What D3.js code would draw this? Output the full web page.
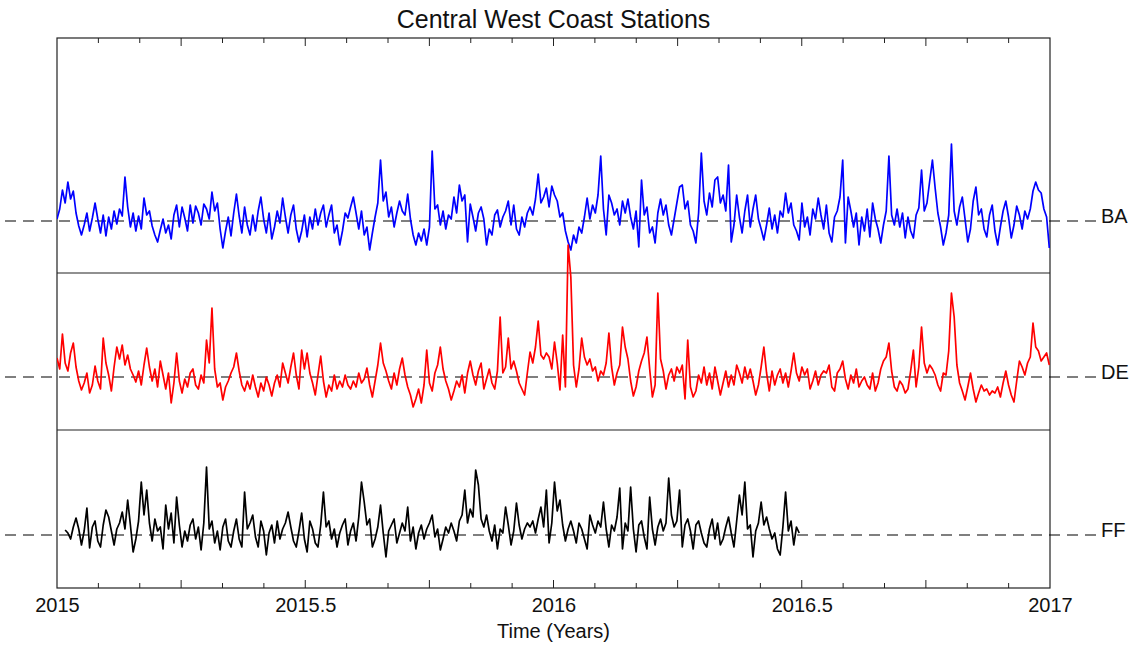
<!DOCTYPE html>
<html>
<head>
<meta charset="utf-8">
<script src="https://cdn.jsdelivr.net/npm/d3@7"></script>
<style>
  html, body { margin: 0; padding: 0; background: #fff; }
  svg { display: block; font-family: "Liberation Sans", Arial, sans-serif; }
</style>
</head>
<body>
<svg id="chart" width="1135" height="646"></svg>
<script>
// Sea-level anomaly records for three central west coast stations,
// sampled every two days (values in mm relative to each station's mean).
const stationNames = ["BA", "DE", "FF"];
const stationColors = ["#0000ff", "#ff0000", "#000000"];
const stepDays = 2;
const baStartDay = 0;
const deStartDay = 0;
const ffStartDay = 6;

const baValues = [
  2, 12, 31, 18, 39, 22, 30, 8, -5, -14,
  -4, 8, -10, 3, 18, 2, -12, 6, -15, 4,
  -8, 10, -3, 12, 5, 44, 14, -6, 8, -10,
  5, -8, 23, 6, 10, -5, -14, -21, -9, 2,
  -12, -4, -18, 6, 16, -6, 14, 3, -10, 16,
  -2, 15, 8, -4, 17, 12, 2, 29, 10, 18,
  -8, -27, -10, 4, -15, 8, 27, 5, -12, 14,
  -4, -14, 6, -10, 10, 24, 2, -12, 8, -18,
  -6, 10, -2, 23, 4, -12, 6, 16, -8, -21,
  -10, 6, -16, 4, -8, 12, -4, 8, 16, -6,
  6, 16, -12, -4, -24, -10, 8, 3, 14, 24,
  8, -8, 10, -14, -6, -29, -12, 4, 18, 61,
  20, 29, 4, 14, -6, 8, 20, 10, 6, 27,
  2, -14, -24, -12, -20, -8, -24, -6, 70, 12,
  16, -4, 10, -8, 6, 2, 24, 8, 36, 20,
  26, -21, 17, 4, -10, 8, 14, 2, -24, -8,
  -14, 6, 11, -6, 4, 10, 20, -4, 16, -8,
  -14, 4, -6, 8, 14, 6, 22, 47, 18, 24,
  33, 14, 35, 26, 20, 4, 8, -10, -21, -29,
  -14, -22, -6, -12, 4, 23, 2, 16, 8, 26,
  65, 12, -14, 26, 18, 6, 12, -4, 20, 8,
  22, 4, -8, 10, -26, 41, 6, 14, -12, -6,
  -22, 8, 22, 6, 16, -4, -14, 2, 18, 34,
  36, 12, 20, -4, -10, -22, 8, 68, 20, 6,
  28, 14, 41, 44, 18, 26, 10, 56, -21, -4,
  26, 4, -12, 10, 26, -6, 12, 26, 2, -8,
  -19, -4, 13, -8, 6, -12, 10, 4, 28, 8,
  18, -4, -10, -19, 18, -6, 4, -14, 12, 2,
  23, 6, -8, 16, -12, -21, 4, 10, 24, 61,
  -22, 24, 10, -6, 8, -24, 4, -10, 12, -16,
  18, 2, -8, -22, -4, 10, 65, 6, -4, 12,
  -6, 8, -17, 4, -10, -17, 6, 13, 51, 10,
  18, 40, 61, 33, 8, -6, -24, -12, 6, 77,
  10, -4, 14, 24, 2, -21, -8, 20, 34, 6,
  12, -8, -16, 6, 16, -10, -24, -6, 10, 20,
  4, -17, -4, 15, 6, -8, 10, 2, 12, 30,
  39, 31, 28, 12, 4, -27
];

const deValues = [
  19, 8, 43, 14, 6, 24, 34, 10, -4, -13,
  -6, 4, -16, -8, 11, -4, -12, 39, 14, 2,
  -14, 10, 30, 18, 32, 12, 22, 8, 2, -5,
  6, -8, 12, 29, 10, -4, 8, -10, 16, 2,
  -12, 4, -26, -6, 24, -4, -16, -2, -10, 4,
  8, -8, -12, 2, -6, 37, 14, 69, 8, -10,
  -6, -23, -10, -4, 4, 10, 24, 6, -8, -14,
  -4, -12, 2, -10, -20, -6, -14, 0, -8, -19,
  -6, 2, -10, 14, 4, -6, 10, 24, 2, -12,
  27, 8, 24, 4, -6, -18, 2, 21, -4, -20,
  -8, -14, 2, -12, -4, -10, 2, -8, -12, -4,
  -10, 4, -6, -2, 9, -8, -20, -4, 12, 34,
  14, 6, -4, -12, 4, -8, 8, 19, 2, -10,
  -18, -30, -22, -12, -26, -8, 27, -6, -14, 4,
  12, 30, 8, -4, -12, -23, -14, -4, -10, 2,
  -16, 4, 16, 2, -8, 6, 14, -12, -2, 8,
  -6, -12, 6, 60, 4, 10, 39, 8, 16, 6,
  -6, -12, -18, 4, 25, 14, 30, 56, 22, 18,
  24, 20, 8, 35, 14, -13, 42, -10, 132, 100,
  12, -10, 8, 39, 20, 12, 18, 6, 10, -4,
  6, 2, 14, 44, 10, -8, 4, 12, 50, 30,
  18, -4, -19, -10, 6, 16, 24, 40, 8, -20,
  -8, 84, 18, 6, -12, 2, 8, -4, 10, 4,
  12, -22, 37, -10, -20, -14, 2, -6, 10, -8,
  4, -12, 10, -4, -18, -6, 6, -10, 2, -8,
  12, 4, -6, 10, -2, 8, -4, -18, -8, 10,
  30, 4, -14, 6, -8, 2, 8, -6, 4, -10,
  6, 24, 4, -4, 10, 2, 8, -12, -4, 6,
  -8, 2, 6, 4, 12, -10, -14, 4, 8, 16,
  -2, -12, 2, -6, 8, -10, -4, 0, -8, -12,
  4, -14, -6, 8, 16, 20, 34, 6, -10, -14,
  -4, -8, -16, -12, 6, 27, -10, 10, 50, 14,
  4, 12, 8, 2, -8, -14, 4, 2, 26, 84,
  60, 12, -6, -14, -23, -10, 4, -12, -25, -16,
  -8, -14, -12, -18, -14, -16, -10, -20, -6, 6,
  -8, -18, -25, -4, 16, 10, 2, 14, 20, 54,
  30, 26, 16, 20, 24, 12
];

const ffValues = [
  5, 2, -4, 8, 17, 6, -10,
  4, 27, -13, 8, 14, -6, -12, 10, 25, 18,
  4, -10, 6, 12, 23, 6, 35, 10, -17, -4,
  14, 53, 20, 45, 12, -6, 16, 4, 8, -14,
  30, 6, 22, -8, 38, 10, -12, 4, -6, 10,
  16, -4, 8, -15, 12, 68, 6, 14, -8, 4,
  -15, 8, 16, -6, -12, 4, 16, -4, -12, 43,
  6, 12, 20, -2, -12, 14, 4, -20, 2, 10,
  -8, 14, -4, 6, 12, 23, 8, -6, -12, 4,
  22, -4, -17, 14, 6, -8, -12, 10, 43, 8,
  14, -4, 6, -12, 2, 10, 16, -10, 4, 12,
  -6, 18, 53, 33, 10, 16, -12, -4, 8, 30,
  2, -22, 4, 10, 16, -8, 2, 12, 4, 28,
  -6, 8, -14, 2, 10, -4, 6, 12, 20, -2,
  6, -15, -4, 8, 2, 12, 4, -6, 14, 20,
  45, 12, 26, 18, 65, 50, 16, 8, 20, 4,
  -6, 10, -14, 6, 2, 28, 10, -10, 4, 32,
  10, -4, 6, 12, 8, 14, 2, 16, 28, 8,
  45, -8, 12, 53, 24, 35, 10, -6, 6, 14,
  4, -8, 12, 6, -4, -14, 20, 10, 2, 14,
  8, 33, 6, -12, 10, 4, 18, 47, -14, 12,
  4, 48, 6, -17, 10, 14, -2, -14, 38, 6,
  -10, 8, 16, 4, 12, 57, 20, 8, 14, 45,
  -12, 10, 16, 4, -14, 10, 14, 2, -8, -12,
  6, 16, -4, 12, -10, -4, 8, 18, 2, -12,
  14, 40, 20, 53, 6, 10, -22, 4, 12, 33,
  10, 18, 6, -4, 2, -14, -20, 8, 43, 4,
  14, -10, 8, 2
];

const xTickValues = [2015, 2015.5, 2016, 2016.5, 2017];
const xTickLabels = ["2015", "2015.5", "2016", "2016.5", "2017"];
const chartTitle = "Central West Coast Stations";
const xAxisTitle = "Time (Years)";

// ---- layout ----
const plot = { left: 57, right: 1050, top: 38, bottom: 588 };
const panelBounds = [[38, 273], [273, 430], [430, 588]];
const panelBaselines = [221, 377, 535];

const svg = d3.select("#chart");

const x = d3.scaleLinear().domain([2015, 2017]).range([plot.left, plot.right]);

// one vertical scale per station panel, zero anchored on the dashed reference line
const yScales = panelBaselines.map(b =>
  d3.scaleLinear().domain([-100, 100]).range([b + 100, b - 100]));

function toSeries(values, startDay) {
  return values.map((v, i) => ({
    t: 2015 + (startDay + i * stepDays) / 365.25,
    v: v
  }));
}
const series = [
  toSeries(baValues, baStartDay),
  toSeries(deValues, deStartDay),
  toSeries(ffValues, ffStartDay)
];

// frame and panel separators (drawn underneath the traces)
svg.append("rect")
  .attr("x", plot.left).attr("y", plot.top)
  .attr("width", plot.right - plot.left).attr("height", plot.bottom - plot.top)
  .attr("fill", "none").attr("stroke", "#222").attr("stroke-width", 1.2);

panelBounds.slice(1).forEach(([top]) => {
  svg.append("line")
    .attr("x1", plot.left).attr("x2", plot.right)
    .attr("y1", top).attr("y2", top)
    .attr("stroke", "#222").attr("stroke-width", 1.2);
});

// monthly ticks on top and bottom edges, longer every quarter
const monthTicks = d3.range(1, 24).map(m => 2015 + m / 12);
function drawEdgeTicks(yEdge, dir) {
  svg.append("g").selectAll("line")
    .data(monthTicks)
    .join("line")
    .attr("x1", d => x(d)).attr("x2", d => x(d))
    .attr("y1", yEdge)
    .attr("y2", (d, i) => yEdge + dir * (((i + 1) % 3 === 0) ? 8 : 5))
    .attr("stroke", "#222").attr("stroke-width", 1);
}
drawEdgeTicks(plot.top, 1);
drawEdgeTicks(plot.bottom, -1);

// dashed zero lines, extending beyond the frame to the station labels
panelBaselines.forEach((b, k) => {
  svg.append("line")
    .attr("x1", 5).attr("x2", 1100)
    .attr("y1", yScales[k](0)).attr("y2", yScales[k](0))
    .attr("stroke", "#000").attr("stroke-width", 1.1)
    .attr("stroke-dasharray", "11,7");
});

// station traces
svg.append("defs").append("clipPath").attr("id", "plotClip")
  .append("rect")
  .attr("x", plot.left).attr("y", plot.top)
  .attr("width", plot.right - plot.left).attr("height", plot.bottom - plot.top);

series.forEach((data, k) => {
  const line = d3.line()
    .x(d => x(d.t))
    .y(d => yScales[k](d.v));
  svg.append("path")
    .datum(data)
    .attr("clip-path", "url(#plotClip)")
    .attr("fill", "none")
    .attr("stroke", stationColors[k])
    .attr("stroke-width", 1.7)
    .attr("stroke-linejoin", "round")
    .attr("d", line);
});

// bottom axis labels
const xAxis = d3.axisBottom(x)
  .tickValues(xTickValues)
  .tickFormat((d, i) => xTickLabels[i])
  .tickSize(0)
  .tickPadding(10);
const gx = svg.append("g")
  .attr("transform", `translate(0,${plot.bottom})`)
  .call(xAxis);
gx.select(".domain").remove();
gx.selectAll("text")
  .attr("font-size", 20)
  .attr("font-family", "Liberation Sans, Arial, sans-serif")
  .attr("fill", "#111");

// station labels
stationNames.forEach((name, k) => {
  svg.append("text")
    .attr("x", 1101).attr("y", yScales[k](0) + 2)
    .attr("font-size", 20)
    .attr("fill", "#111")
    .text(name);
});

// titles
svg.append("text")
  .attr("x", (plot.left + plot.right) / 2).attr("y", 28)
  .attr("text-anchor", "middle")
  .attr("font-size", 25)
  .attr("fill", "#111")
  .text(chartTitle);

svg.append("text")
  .attr("x", (plot.left + plot.right) / 2).attr("y", 638)
  .attr("text-anchor", "middle")
  .attr("font-size", 20)
  .attr("fill", "#111")
  .text(xAxisTitle);
</script>
</body>
</html>
